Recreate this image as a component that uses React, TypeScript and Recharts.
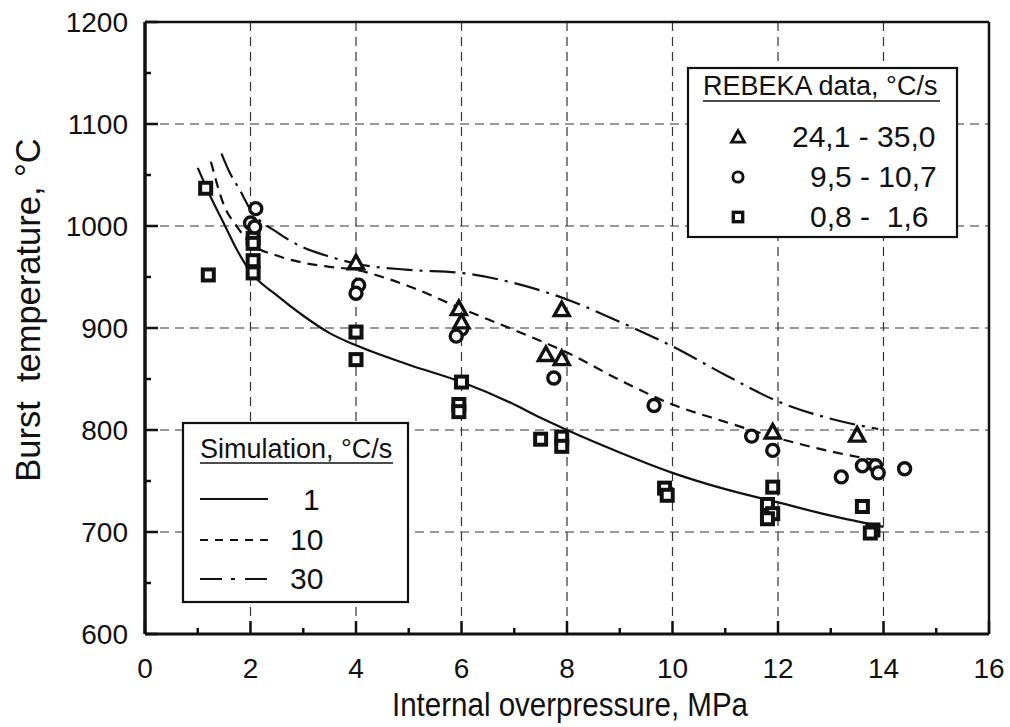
import { CartesianGrid, ComposedChart, Line, ReferenceLine, Scatter, XAxis, YAxis } from "recharts"

// REBEKA burst tests, split by heating rate group
const triPressure = [4.0, 5.95, 6.0, 7.6, 7.9, 7.9, 11.9, 13.5]
const triTemp = [964, 919, 906, 874, 870, 918, 798, 795]

const circPressure = [2.1, 2.0, 2.08, 4.05, 4.0, 6.0, 5.9, 7.75, 9.65, 11.5, 11.9, 13.2, 13.6, 13.85, 13.9, 14.4]
const circTemp = [1017, 1003, 999, 942, 934, 899, 892, 851, 824, 794, 780, 754, 765, 765, 758, 762]

const sqPressure = [1.15, 1.2, 2.05, 2.05, 2.05, 2.05, 4.0, 4.0, 6.0, 5.95, 5.95, 7.5, 7.9, 7.9, 9.85, 9.9, 11.9, 11.8, 11.9, 11.8, 13.6, 13.8, 13.75]
const sqTemp = [1037, 952, 988, 983, 966, 954, 896, 869, 847, 825, 818, 791, 793, 784, 743, 736, 744, 727, 718, 713, 725, 702, 699]

// simulated burst curves, 1 / 10 / 30 °C/s
const sim1P = [1.0, 1.25, 1.5, 1.75, 2, 2.5, 3, 3.5, 4, 5, 6, 7, 7.5, 8, 9, 10, 11, 12, 13, 14]
const sim1T = [1057, 1028, 1002, 976, 955, 932, 912, 895, 883, 864, 847, 825, 812, 800, 778, 758, 742, 729, 716, 705]

const sim10P = [1.25, 1.5, 1.75, 2, 2.5, 3, 3.5, 4, 4.5, 5, 6, 7, 8, 9, 10, 11, 12, 13, 14]
const sim10T = [1063, 1020, 999, 983, 971, 964, 960, 957, 950, 941, 919, 898, 876, 849, 825, 808, 792, 779, 769]

const sim30P = [1.45, 1.6, 1.8, 2, 2.5, 3, 3.5, 4, 5, 6, 7, 8, 9, 10, 11, 12, 13, 13.9]
const sim30T = [1071, 1053, 1035, 1016, 994, 979, 970, 963, 957, 954, 944, 928, 906, 882, 854, 828, 811, 801]

const xTicks = [0, 1, 2, 3, 4, 5, 6, 7, 8, 9, 10, 11, 12, 13, 14, 15, 16]
const yTicks = [600, 650, 700, 750, 800, 850, 900, 950, 1000, 1050, 1100, 1150, 1200]
const xGrid = [2, 4, 6, 8, 10, 12, 14]
const yGrid = [700, 800, 900, 1000, 1100]

const zip = (xs: number[], ys: number[]) => xs.map((x, i) => ({ x, y: ys[i] }))

const INK = "#111"
const FONT = "'Liberation Sans', Arial, sans-serif"

type MarkProps = { cx: number; cy: number; k?: number }

const Tri = ({ cx, cy, k = 1 }: MarkProps) => (
  <polygon
    points={`${cx - 7.5 * k},${cy + 6 * k} ${cx + 7.5 * k},${cy + 6 * k} ${cx},${cy - 7.5 * k}`}
    fill="#fff"
    stroke={INK}
    strokeWidth={3.4 * k}
  />
)
const Circ = ({ cx, cy, k = 1 }: MarkProps) => (
  <circle cx={cx} cy={cy} r={6 * k} fill="#fff" stroke={INK} strokeWidth={3.4 * k} />
)
const Sq = ({ cx, cy, k = 1 }: MarkProps) => (
  <rect x={cx - 5.5 * k} y={cy - 5.5 * k} width={11 * k} height={11 * k} fill="#fff" stroke={INK} strokeWidth={4 * k} />
)

const XTick = (props: any) => {
  const { x, y, payload } = props
  const major = payload.value % 2 === 0
  return (
    <g>
      <line x1={x} x2={x} y1={y} y2={y - (major ? 13 : 6)} stroke={INK} strokeWidth={2.5} />
      {major && (
        <text x={x} y={y + 44} textAnchor="middle" fontSize={28} fill={INK} fontFamily={FONT}>
          {payload.value}
        </text>
      )}
    </g>
  )
}

const YTick = (props: any) => {
  const { x, y, payload } = props
  const major = payload.value % 100 === 0
  return (
    <g>
      <line x1={x} x2={x + (major ? 13 : 6)} y1={y} y2={y} stroke={INK} strokeWidth={2.5} />
      {major && (
        <text x={x - 17} y={y + 10} textAnchor="end" fontSize={28} fill={INK} fontFamily={FONT}>
          {payload.value}
        </text>
      )}
    </g>
  )
}

export default function App() {
  return (
    <div style={{ position: "absolute", left: 0, top: 0, background: "#fff" }}>
      <ComposedChart width={1010} height={727} margin={{ top: 22, right: 21, bottom: 0, left: 0 }}>
        <CartesianGrid
          verticalValues={xGrid}
          horizontalValues={yGrid}
          stroke="#333"
          strokeDasharray="9 6"
          strokeWidth={1.2}
        />
        <XAxis
          dataKey="x"
          type="number"
          domain={[0, 16]}
          ticks={xTicks}
          interval={0}
          height={93}
          tickSize={0}
          tickMargin={0}
          tickLine={false}
          tick={XTick}
          axisLine={{ stroke: INK, strokeWidth: 3 }}
        />
        <YAxis
          dataKey="y"
          type="number"
          domain={[600, 1200]}
          ticks={yTicks}
          interval={0}
          width={145}
          tickSize={0}
          tickMargin={0}
          tickLine={false}
          tick={YTick}
          axisLine={{ stroke: INK, strokeWidth: 3.5 }}
        />
        <ReferenceLine y={1200} stroke={INK} strokeWidth={2.5} />
        <ReferenceLine x={16} stroke={INK} strokeWidth={2.5} />

        <Line data={zip(sim1P, sim1T)} dataKey="y" type="monotone" stroke={INK} strokeWidth={2.2} dot={false} isAnimationActive={false} />
        <Line data={zip(sim10P, sim10T)} dataKey="y" type="monotone" stroke={INK} strokeWidth={2.2} strokeDasharray="10 7" dot={false} isAnimationActive={false} />
        <Line data={zip(sim30P, sim30T)} dataKey="y" type="monotone" stroke={INK} strokeWidth={2.2} strokeDasharray="26 7 3 7" dot={false} isAnimationActive={false} />

        <Scatter data={zip(sqPressure, sqTemp)} shape={(p: any) => <Sq cx={p.cx} cy={p.cy} />} isAnimationActive={false} />
        <Scatter data={zip(circPressure, circTemp)} shape={(p: any) => <Circ cx={p.cx} cy={p.cy} />} isAnimationActive={false} />
        <Scatter data={zip(triPressure, triTemp)} shape={(p: any) => <Tri cx={p.cx} cy={p.cy} />} isAnimationActive={false} />

        {/* axis titles */}
        <text x={570} y={716} textAnchor="middle" fontSize={33} textLength={356} lengthAdjust="spacingAndGlyphs" fill={INK} fontFamily={FONT}>
          Internal overpressure, MPa
        </text>
        <text transform="rotate(-90)" x={-310} y={40} textAnchor="middle" fontSize={34.5} fill={INK} fontFamily={FONT} style={{ whiteSpace: "pre" }}>
          {"Burst  temperature, °C"}
        </text>

        {/* experiment legend */}
        <g fontFamily={FONT} fill={INK}>
          <rect x={688} y={68} width={269} height={169} fill="#fff" stroke={INK} strokeWidth={2.2} />
          <text x={703} y={95} fontSize={27}>REBEKA data, °C/s</text>
          <line x1={703} x2={940} y1={101} y2={101} stroke={INK} strokeWidth={1.5} />
          <Tri cx={738} cy={137} k={0.85} />
          <Circ cx={738} cy={177} k={0.85} />
          <Sq cx={738} cy={217} k={0.85} />
          <text x={792} y={147} fontSize={30}>24,1 - 35,0</text>
          <text x={810} y={187} fontSize={30}>9,5 - 10,7</text>
          <text x={810} y={227} fontSize={30} style={{ whiteSpace: "pre" }}>{"0,8 -  1,6"}</text>
        </g>

        {/* simulation legend */}
        <g fontFamily={FONT} fill={INK}>
          <rect x={183} y={423} width={225} height={179} fill="#fff" stroke={INK} strokeWidth={2.2} />
          <text x={200} y={458} fontSize={27}>Simulation, °C/s</text>
          <line x1={200} x2={393} y1={463} y2={463} stroke={INK} strokeWidth={1.5} />
          <line x1={200} x2={268} y1={499} y2={499} stroke={INK} strokeWidth={2.2} />
          <line x1={200} x2={268} y1={540} y2={540} stroke={INK} strokeWidth={2.2} strokeDasharray="8 7" />
          <line x1={200} x2={268} y1={579} y2={579} stroke={INK} strokeWidth={2.2} strokeDasharray="22 9 4 10 22" />
          <text x={303} y={510} fontSize={30}>1</text>
          <text x={290} y={550} fontSize={30}>10</text>
          <text x={290} y={589} fontSize={30}>30</text>
        </g>
      </ComposedChart>
    </div>
  )
}
